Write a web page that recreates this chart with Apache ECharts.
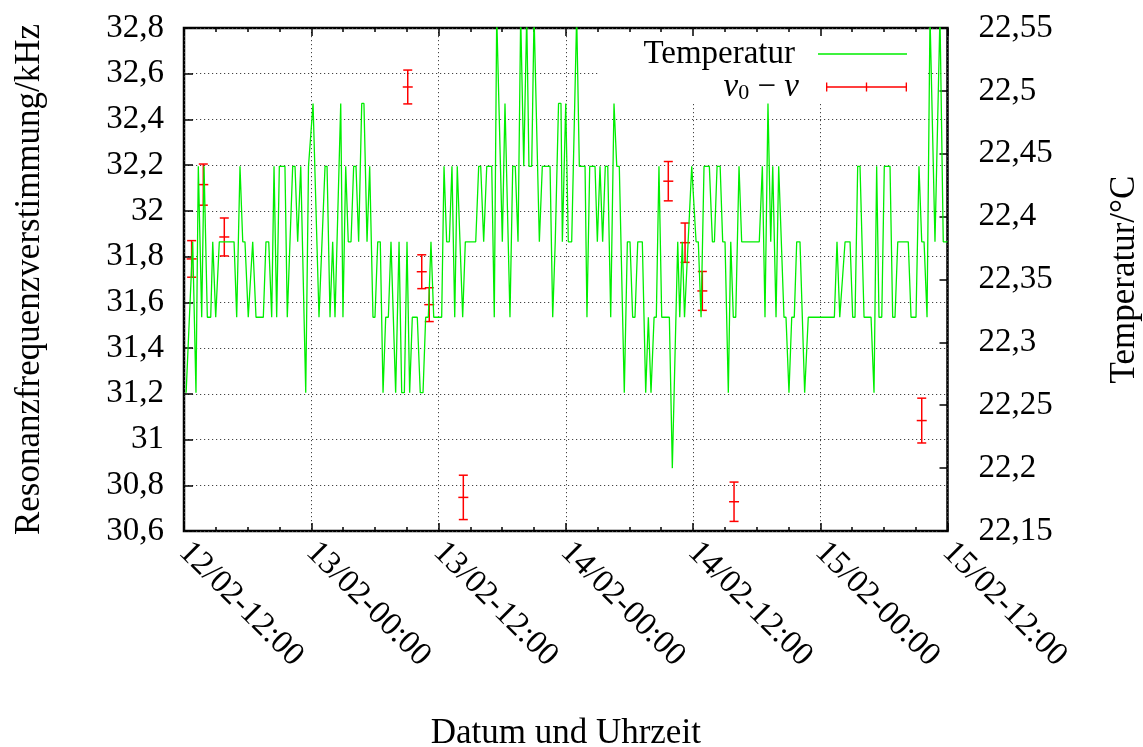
<!DOCTYPE html>
<html><head><meta charset="utf-8">
<script src="https://cdn.jsdelivr.net/npm/echarts@6/dist/echarts.min.js"></script>
<style>html,body{margin:0;padding:0;background:#fff}#c{width:1143px;height:747px}</style>
</head><body><div id="c"></div>
<script>
// x axis: hours since 12/02 12:00
const xTickLabels = ['12/02-12:00','13/02-00:00','13/02-12:00','14/02-00:00','14/02-12:00','15/02-00:00','15/02-12:00'];
const leftTickLabels = ['30,6','30,8','31','31,2','31,4','31,6','31,8','32','32,2','32,4','32,6','32,8'];
const rightTickLabels = ['22,15','22,2','22,25','22,3','22,35','22,4','22,45','22,5','22,55'];

const tempHours = [0.2,0.82,1.13,1.35,1.67,1.89,2.20,2.52,2.71,2.99,3.33,4.72,4.97,5.28,5.54,5.75,6.06,6.22,6.48,6.79,7.48,7.73,7.99,8.27,8.49,8.74,8.99,9.52,9.74,10.25,10.47,10.72,11.01,11.48,11.74,12.17,12.73,13.30,13.49,13.77,14.02,14.24,14.78,14.99,15.25,15.49,15.75,16.00,16.22,16.47,16.76,16.97,17.26,17.51,17.82,18.01,18.27,18.51,18.77,19.02,19.27,19.52,19.96,20.28,20.53,20.78,21.03,21.28,21.53,22.00,22.28,22.54,22.79,23.04,23.29,23.55,24.30,24.52,24.77,25.02,25.27,25.53,25.77,26.28,26.53,27.51,27.79,27.98,28.26,28.55,29.02,29.26,29.49,30.02,30.27,30.74,31.00,31.24,31.50,31.75,32.04,32.32,32.53,32.79,33.01,33.51,33.79,34.52,34.77,35.01,35.32,35.55,35.68,36.00,36.24,36.56,37.03,37.28,37.82,38.00,38.26,38.76,38.98,39.23,39.48,39.73,39.96,40.24,40.55,40.81,41.05,41.52,41.81,42.06,42.31,42.53,42.79,43.22,43.54,43.79,44.04,44.33,44.54,44.79,45.05,45.77,46.05,46.56,46.75,46.99,47.20,47.88,48.03,48.29,48.50,48.76,49.04,49.54,49.83,50.02,50.27,50.56,50.80,51.02,51.33,51.56,51.80,52.03,52.34,52.59,54.25,54.54,54.79,55.07,55.33,55.52,55.83,56.08,56.58,56.77,57.05,57.31,57.55,57.78,58.09,58.53,58.87,61.33,61.58,61.84,62.02,62.34,62.81,63.06,63.28,63.53,63.75,64.13,64.79,65.07,65.32,65.54,65.80,66.04,66.58,66.83,67.05,67.31,68.30,68.56,69.03,69.31,69.57,69.79,70.07,70.35,70.82,71.29,71.60,72.00];
const tempValues = [22.26,22.38,22.26,22.44,22.32,22.44,22.32,22.32,22.38,22.32,22.38,22.38,22.32,22.44,22.38,22.38,22.32,22.32,22.38,22.32,22.32,22.38,22.38,22.32,22.44,22.32,22.44,22.44,22.32,22.44,22.44,22.38,22.44,22.26,22.44,22.49,22.32,22.44,22.44,22.32,22.38,22.32,22.49,22.32,22.44,22.38,22.38,22.44,22.44,22.38,22.49,22.49,22.38,22.44,22.32,22.32,22.38,22.38,22.26,22.32,22.32,22.38,22.26,22.38,22.26,22.26,22.38,22.26,22.32,22.32,22.26,22.26,22.32,22.32,22.38,22.32,22.32,22.44,22.38,22.38,22.44,22.32,22.44,22.32,22.38,22.38,22.44,22.44,22.38,22.44,22.44,22.32,22.56,22.38,22.49,22.32,22.44,22.44,22.38,22.56,22.44,22.56,22.44,22.44,22.56,22.38,22.44,22.44,22.32,22.38,22.49,22.49,22.38,22.49,22.38,22.38,22.56,22.44,22.44,22.32,22.44,22.44,22.38,22.44,22.38,22.44,22.44,22.32,22.49,22.44,22.44,22.26,22.38,22.38,22.32,22.32,22.38,22.38,22.26,22.32,22.26,22.32,22.32,22.44,22.32,22.32,22.20,22.38,22.32,22.38,22.32,22.44,22.44,22.38,22.38,22.32,22.44,22.44,22.38,22.38,22.44,22.44,22.38,22.38,22.26,22.38,22.32,22.32,22.44,22.38,22.38,22.44,22.32,22.49,22.38,22.44,22.32,22.44,22.32,22.32,22.26,22.32,22.32,22.38,22.38,22.26,22.32,22.32,22.38,22.32,22.32,22.38,22.38,22.32,22.32,22.44,22.44,22.32,22.32,22.26,22.44,22.32,22.32,22.44,22.44,22.32,22.32,22.38,22.38,22.32,22.32,22.44,22.38,22.38,22.32,22.56,22.38,22.56,22.38,22.38];

const freqHours  = [0.72, 1.82, 3.80, 21.10, 22.42, 23.13, 26.34, 45.67, 47.25, 48.88, 51.87, 69.57];
const freqValues = [31.79, 32.115, 31.886, 32.542, 31.734, 31.590, 30.747, 32.130, 31.861, 31.650, 30.728, 31.083];
const freqErrors = [0.080, 0.090, 0.083, 0.074, 0.074, 0.074, 0.097, 0.086, 0.086, 0.085, 0.086, 0.098];

const FONT = 'Liberation Serif';
const FS = 33;
const NFS = 35;
const chart = echarts.init(document.getElementById('c'));

const tickStyle = {color:'#000', width:1.5};
const gridLine = {show:true, lineStyle:{color:'#444', width:1, type:[1.2,2.8]}};
const noLine = {show:false, onZero:false};

const xBase = {
  type:'value', min:0, max:72, interval:12,
  axisLine:noLine,
  axisTick:{show:true, inside:true, length:8, lineStyle:tickStyle},
  minorTick:{show:true, splitNumber:4, length:4, lineStyle:tickStyle}
};

chart.setOption({
  backgroundColor:'#fff',
  animation:false,
  grid:{left:184, right:195.5, top:28, bottom:216, show:true, borderColor:'#000', borderWidth:2.5,
        backgroundColor:'transparent', containLabel:false, outerBoundsMode:'none'},
  graphic:[{type:'rect', z:1, silent:true, shape:{x:598, y:30.5, width:329, height:72.5}, style:{fill:'#fff'}}],
  legend:[
    {data:[{name:'Temperatur', icon:'path://M0,4.35H90V5.65H0Z M0,0H0.01V0.01H0Z M89.99,9.99H90V10H89.99Z'}],
     orient:'vertical', align:'right', right:236, top:37, padding:0,
     itemWidth:89, itemHeight:10, selectedMode:false,
     textStyle:{fontFamily:FONT, fontSize:FS, color:'#000', lineHeight:34, padding:[0,18,0,0]}},
    {data:[{name:'nu', icon:'path://M0,0H1.5V4.25H44.25V0H45.75V4.25H88.5V0H90V10H88.5V5.75H45.75V10H44.25V5.75H1.5V10H0Z'}],
     orient:'vertical', align:'right', right:236, top:70, padding:0,
     itemWidth:89, itemHeight:9, selectedMode:false,
     formatter:()=>'{i|ν}{s|0}{t| − }{i|ν}',
     textStyle:{fontFamily:FONT, fontSize:FS, color:'#000', lineHeight:34, padding:[0,18,0,0],
       rich:{i:{fontFamily:FONT, fontStyle:'italic', fontSize:FS, lineHeight:34},
             s:{fontFamily:FONT, fontSize:22, lineHeight:18, verticalAlign:'bottom'},
             t:{fontFamily:FONT, fontSize:FS, lineHeight:34}}}}
  ],
  xAxis:[
    Object.assign({}, xBase, {
      position:'bottom',
      axisLabel:{rotate:-45, margin:16, fontFamily:FONT, fontSize:FS, color:'#000',
        formatter:v=>xTickLabels[Math.round(v/12)]},
      splitLine:gridLine,
      name:'Datum und Uhrzeit', nameLocation:'middle', nameGap:185,
      nameTextStyle:{fontFamily:FONT, fontSize:NFS, color:'#000'}
    }),
    Object.assign({}, xBase, {position:'top', z:3, axisLabel:{show:false}, splitLine:{show:false}})
  ],
  yAxis:[
    {type:'value', position:'left', min:30.6, max:32.8, interval:0.2,
     axisLine:noLine,
     axisTick:{show:true, inside:true, length:9, lineStyle:tickStyle},
     axisLabel:{margin:20, fontFamily:FONT, fontSize:FS, color:'#000',
       formatter:v=>leftTickLabels[Math.round((v-30.6)/0.2)]},
     splitLine:gridLine,
     name:'Resonanzfrequenzverstimmung/kHz', nameLocation:'middle', nameGap:137,
     nameTextStyle:{fontFamily:FONT, fontSize:NFS, color:'#000'}},
    {type:'value', position:'right', min:22.15, max:22.55, interval:0.05,
     axisLine:noLine,
     axisTick:{show:true, inside:true, length:8, lineStyle:tickStyle},
     axisLabel:{margin:31, fontFamily:FONT, fontSize:FS, color:'#000',
       formatter:v=>rightTickLabels[Math.round((v-22.15)/0.05)]},
     splitLine:{show:false},
     name:'Temperatur/°C', nameLocation:'middle', nameGap:160,
     nameTextStyle:{fontFamily:FONT, fontSize:NFS, color:'#000'}}
  ],
  series:[
    {name:'Temperatur', type:'line', xAxisIndex:0, yAxisIndex:1, symbol:'none', showSymbol:false,
     clip:true, lineStyle:{color:'#00ee00', width:1.3}, itemStyle:{color:'#00ee00'},
     data:tempHours.map((h,i)=>[h, tempValues[i]])},
    {name:'nu', type:'custom', xAxisIndex:0, yAxisIndex:0, itemStyle:{color:'#ff0000'},
     encode:{x:0, y:1},
     data:freqHours.map((h,i)=>[h, freqValues[i], freqErrors[i]]),
     renderItem:(params, api)=>{
       const x = api.value(0), y = api.value(1), e = api.value(2);
       const c = api.coord([x,y]), lo = api.coord([x,y-e]), hi = api.coord([x,y+e]);
       const cap = 4.5, pt = 5;
       const st = {stroke:'#ff0000', lineWidth:1.5, fill:null};
       return {type:'group', children:[
         {type:'line', shape:{x1:lo[0], y1:lo[1], x2:hi[0], y2:hi[1]}, style:st},
         {type:'line', shape:{x1:lo[0]-cap, y1:lo[1], x2:lo[0]+cap, y2:lo[1]}, style:st},
         {type:'line', shape:{x1:hi[0]-cap, y1:hi[1], x2:hi[0]+cap, y2:hi[1]}, style:st},
         {type:'line', shape:{x1:c[0]-pt, y1:c[1], x2:c[0]+pt, y2:c[1]}, style:st}
       ]};
     }}
  ]
});
</script></body></html>
